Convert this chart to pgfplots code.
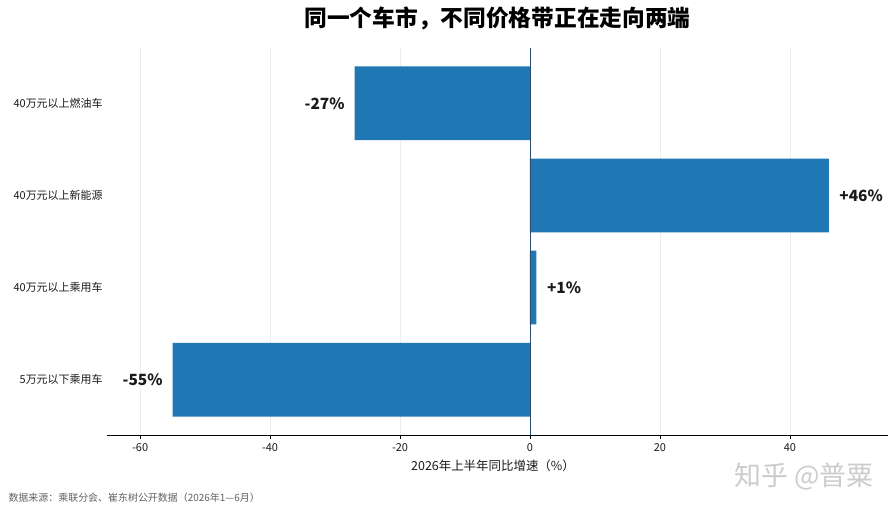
\documentclass[border=0pt]{standalone}
\usepackage{fontspec}
\setmainfont{Noto Sans CJK SC}
\usepackage{pgfplots}
\pgfplotsset{compat=1.18}
\definecolor{barblue}{HTML}{1F77B4}
\definecolor{zeroline}{HTML}{2B4C6F}
\definecolor{txt}{HTML}{1A1A1A}
\begin{document}
\begin{tikzpicture}
\path[use as bounding box] (0,0) rectangle (896bp,-512bp);
\begin{axis}[
  at={(107bp,-435bp)}, anchor=south west,
  scale only axis, width=781bp, height=387bp,
  xmin=-65.1, xmax=55.1, ymin=-0.6, ymax=3.6,
  axis x line*=bottom, axis y line*=left,
  y axis line style={draw=none},
  x axis line style={line width=0.9bp, black},
  xtick={-60,-40,-20,0,20,40},
  xticklabels={-60,-40,-20,0,20,40},
  ytick={0,1,2,3},
  yticklabels={5万元以下乘用车,40万元以上乘用车,40万元以上新能源,40万元以上燃油车},
  ytick style={draw=none},
  xtick style={line width=0.7bp, black},
  tick align=outside, major tick length=4bp,
  tick label style={font=\fontsize{11}{13}\selectfont, text=txt},
  yticklabel style={anchor=east, xshift=3bp},
  xticklabel style={yshift=-1bp},
  xmajorgrids, major grid style={line width=0.6bp, color=black!7},
  clip=false,
]
\addplot[xbar, bar width=0.8, bar shift=0pt, fill=barblue, draw=none,
  point meta=explicit symbolic,
  nodes near coords,
  every node near coord/.append style={anchor=east, xshift=-6.5bp, font=\fontsize{15.5}{18}\selectfont\bfseries, text=txt}]
  coordinates {(-55,0) [-55\%] (-27,3) [-27\%]};
\addplot[xbar, bar width=0.8, bar shift=0pt, fill=barblue, draw=none,
  point meta=explicit symbolic,
  nodes near coords,
  every node near coord/.append style={anchor=west, xshift=7bp, font=\fontsize{15.5}{18}\selectfont\bfseries, text=txt}]
  coordinates {(1,1) [+1\%] (46,2) [+46\%]};
\draw[zeroline, line width=0.9bp] (axis cs:0,-0.6) -- (axis cs:0,3.6);
\end{axis}
\node[font=\fontsize{22.8}{26}\selectfont\bfseries, text=black] at (497.5bp,-18bp) {同一个车市，不同价格带正在走向两端};
\node[font=\fontsize{12.5}{14}\selectfont, text=txt] at (493bp,-466bp) {2026年上半年同比增速（\%）};
\node[font=\fontsize{10}{12}\selectfont, text=black!62, anchor=west] at (5bp,-497.5bp) {数据来源：乘联分会、崔东树公开数据（2026年1—6月）};
\node[font=\fontsize{27}{30}\selectfont, text=black!20, anchor=west] at (731bp,-476bp) {知乎 @普粟};
\end{tikzpicture}
\end{document}
